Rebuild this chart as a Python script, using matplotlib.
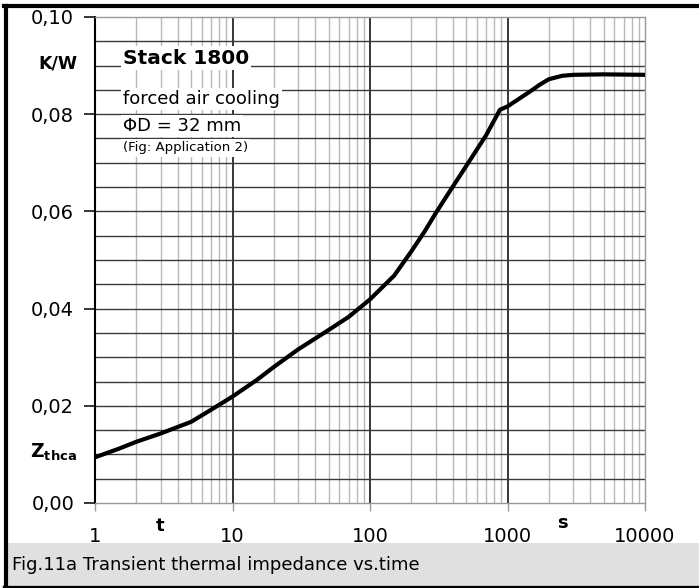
import matplotlib
matplotlib.use("Agg")
import matplotlib.pyplot as plt
from matplotlib.lines import Line2D
from matplotlib.patches import Rectangle
from matplotlib.ticker import FixedLocator, NullFormatter
import numpy as np

plt.rcParams['font.family'] = ['DejaVu Sans']
plt.rcParams['mathtext.fontset'] = 'dejavusans'

# Transient thermal impedance
time_s = [1, 1.5, 2, 3, 5, 7, 10, 15, 20, 30, 50, 70, 100, 150, 200, 250,
          300, 400, 500, 700, 880, 1000, 1500, 1700, 2000, 2500, 3000, 5000,
          10000]
zthca = [0.0094, 0.0112, 0.0126, 0.0143, 0.0167, 0.0192, 0.0219, 0.0253,
         0.0280, 0.0316, 0.0356, 0.0383, 0.0419, 0.0468, 0.0518, 0.0559,
         0.0596, 0.0651, 0.0693, 0.0757, 0.0809, 0.0816, 0.0849, 0.0860,
         0.0872, 0.0879, 0.0881, 0.0882, 0.0881]

y_ticks = [0.00, 0.02, 0.04, 0.06, 0.08, 0.10]
y_labels = ['0,00', '0,02', '0,04', '0,06', '0,08', '0,10']
x_ticks = [1, 10, 100, 1000, 10000]
x_labels = ['1', '10', '100', '1000', '10000']

W, H = 699, 588
fig = plt.figure(figsize=(W / 100, H / 100), dpi=100)
ax = fig.add_axes([95 / W, 1 - 503 / H, 550 / W, 486 / H])

ax.set_xscale('log')
ax.set_xlim(1, 10000)
ax.set_ylim(0, 0.10)

# Grid: light minor decades, dark decade lines, horizontal every 0.005
minor_x = [m * 10 ** d for d in range(4) for m in range(2, 10)]
for x in minor_x:
    ax.axvline(x, color='#b8b8b8', lw=1.0, zorder=1)
for x in [10, 100, 1000]:
    ax.axvline(x, color='black', lw=1.1, zorder=2)
for y in np.arange(0.005, 0.1, 0.005):
    ax.axhline(y, color='#3a3a3a', lw=1.0, zorder=2)

ax.plot(time_s, zthca, color='black', lw=3.0, solid_capstyle='round',
        solid_joinstyle='round', zorder=5)

ax.yaxis.set_major_locator(FixedLocator(y_ticks))
ax.set_yticklabels(y_labels)
ax.xaxis.set_major_locator(FixedLocator(x_ticks))
ax.xaxis.set_minor_formatter(NullFormatter())
ax.xaxis.set_minor_locator(FixedLocator([]))
ax.set_xticklabels(x_labels)
ax.tick_params(axis='y', direction='out', length=8, width=1.1, color='black',
               labelsize=14, pad=7)
ax.tick_params(axis='x', direction='out', length=6, width=1.0, color='#999999',
               labelsize=14, pad=11)

for side in ['top', 'right', 'bottom']:
    ax.spines[side].set_color('#999999')
    ax.spines[side].set_linewidth(1.0)
ax.spines['left'].set_color('black')
ax.spines['left'].set_linewidth(1.5)

# Annotation block with white background per line
box = dict(facecolor='white', edgecolor='none', pad=1.5)
tx = (123 - 95) / 550
ax.text(tx, 1 - (58 - 17) / 486, 'Stack 1800', transform=ax.transAxes,
        fontsize=14.5, fontweight='bold', va='center', ha='left', bbox=box, zorder=6)
ax.text(tx, 1 - (99 - 17) / 486, 'forced air cooling', transform=ax.transAxes,
        fontsize=13, va='center', ha='left', bbox=box, zorder=6)
ax.text(tx, 1 - (126 - 17) / 486, 'ΦD = 32 mm', transform=ax.transAxes,
        fontsize=13, va='center', ha='left', bbox=box, zorder=6)
ax.text(tx, 1 - (148 - 17) / 486, '(Fig: Application 2)', transform=ax.transAxes,
        fontsize=9.5, va='center', ha='left', bbox=box, zorder=6)

# Axis unit labels
fig.text(77 / W, 1 - 63 / H, 'K/W', fontsize=12.5, fontweight='bold',
         ha='right', va='center')
fig.text(77 / W, 1 - 452 / H, r'$\mathbf{Z}_{\mathbf{thca}}$', fontsize=13.5,
         ha='right', va='center')
fig.text(160 / W, 1 - 526 / H, 't', fontsize=13, fontweight='bold',
         ha='center', va='center')
fig.text(562 / W, 1 - 523 / H, 's', fontsize=13, fontweight='bold',
         ha='center', va='center')

# Caption band and frame
fig.patches.append(Rectangle((6 / W, 3 / H), 1 - 6 / W, 42 / H,
                             transform=fig.transFigure, facecolor='#e0e0e0',
                             edgecolor='none', zorder=0))
fig.text(12 / W, 1 - 565 / H, 'Fig.11a Transient thermal impedance vs.time',
         fontsize=13, ha='left', va='center')
fig.lines.append(Line2D([6 / W, 6 / W], [0, 1 - 6 / H], transform=fig.transFigure,
                        color='black', lw=3))
fig.lines.append(Line2D([4 / W, 1], [1 - 6 / H, 1 - 6 / H], transform=fig.transFigure,
                        color='black', lw=3))
fig.lines.append(Line2D([4 / W, 1], [1.5 / H, 1.5 / H], transform=fig.transFigure,
                        color='black', lw=2.5))

fig.savefig('out.png', dpi=100)
